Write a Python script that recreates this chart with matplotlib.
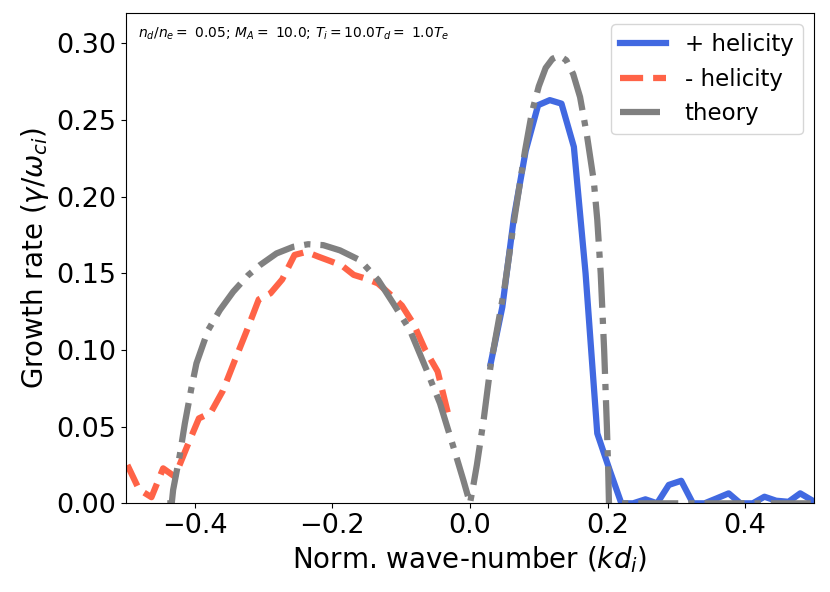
import matplotlib
matplotlib.use("Agg")
import matplotlib.pyplot as plt

# + helicity (simulation)
k_plus = [0.030, 0.047, 0.064, 0.081, 0.099, 0.116, 0.133, 0.151, 0.168, 0.185,
          0.203, 0.220, 0.237, 0.255, 0.272, 0.289, 0.307, 0.324, 0.341, 0.359,
          0.376, 0.393, 0.411, 0.428, 0.445, 0.463, 0.480, 0.497]
g_plus = [0.091, 0.128, 0.187, 0.230, 0.2597, 0.263, 0.2607, 0.2325, 0.150, 0.0456,
          0.0217, 0.0, 0.0, 0.0026, 0.0, 0.012, 0.0147, 0.0, 0.0, 0.0033,
          0.0065, 0.0, 0.0, 0.0043, 0.0017, 0.001, 0.0065, 0.002]

# - helicity (simulation)
k_minus = [-0.498, -0.481, -0.463, -0.446, -0.429, -0.411, -0.394, -0.377, -0.359, -0.342,
           -0.325, -0.307, -0.290, -0.273, -0.255, -0.238, -0.221, -0.203, -0.186, -0.169,
           -0.151, -0.134, -0.117, -0.099, -0.082, -0.065, -0.047, -0.030]
g_minus = [0.025, 0.009, 0.004, 0.0228, 0.0174, 0.0373, 0.0554, 0.059, 0.0736, 0.093,
           0.112, 0.133, 0.137, 0.146, 0.162, 0.164, 0.161, 0.158, 0.155, 0.149,
           0.1465, 0.1435, 0.1367, 0.129, 0.117, 0.100, 0.086, 0.055]

# theory
k_theory = [-0.440, -0.4335, -0.4315, -0.4267, -0.4218, -0.4145, -0.405, -0.3976, -0.3806,
            -0.3636, -0.3442, -0.3224, -0.3055, -0.2812, -0.257, -0.2352, -0.2133, -0.189,
            -0.160, -0.1333, -0.1115, -0.0873, -0.063, -0.0436, -0.0242, -0.0097, 0.0,
            0.005, 0.010, 0.020, 0.030, 0.040, 0.050, 0.065, 0.080, 0.090, 0.100, 0.110,
            0.120, 0.130, 0.140, 0.150, 0.160, 0.170, 0.180, 0.185, 0.190, 0.195, 0.199,
            0.201, 0.202, 0.500]
g_theory = [0.0, 0.0, 0.0087, 0.020, 0.0315, 0.052, 0.075, 0.0913, 0.113,
            0.126, 0.138, 0.1488, 0.1553, 0.163, 0.1673, 0.169, 0.1684, 0.165,
            0.1586, 0.1456, 0.1304, 0.113, 0.0869, 0.0652, 0.0369, 0.0152, 0.0,
            0.012, 0.025, 0.055, 0.090, 0.115, 0.140, 0.187, 0.230, 0.255, 0.272, 0.284,
            0.290, 0.292, 0.289, 0.280, 0.265, 0.240, 0.210, 0.185, 0.150, 0.100, 0.050,
            0.020, 0.0, 0.0]

annotation = r'$n_d/n_e=$ 0.05; $M_A=$ 10.0; $T_i=$10.0$T_d=$ 1.0$T_e$'

fig = plt.figure(figsize=(8.3, 5.92), dpi=100)
ax = fig.add_axes([0.1518, 0.1498, 0.8289, 0.8287])

ax.plot(k_plus, g_plus, color='royalblue', lw=4.5, label='+ helicity')
ax.plot(k_minus, g_minus, color='tomato', lw=4.5, ls='--', label='- helicity')
ax.plot(k_theory, g_theory, color='gray', lw=4.5, ls='-.', label='theory')

ax.set_xlim(-0.5, 0.5)
ax.set_ylim(0, 0.32)
ax.set_xticks([-0.4, -0.2, 0.0, 0.2, 0.4])
ax.set_yticks([0.0, 0.05, 0.10, 0.15, 0.20, 0.25, 0.30])
ax.set_yticklabels(['0.00', '0.05', '0.10', '0.15', '0.20', '0.25', '0.30'])
ax.tick_params(labelsize=19.5)
ax.set_xlabel(r'Norm. wave-number ($kd_i$)', fontsize=20)
ax.set_ylabel(r'Growth rate ($\gamma/\omega_{ci}$)', fontsize=20)
ax.text(0.017, 0.958, annotation, transform=ax.transAxes, fontsize=10, va='center', ha='left')
ax.legend(loc='upper right', fontsize=16.5)

fig.savefig('out.png', dpi=100)
